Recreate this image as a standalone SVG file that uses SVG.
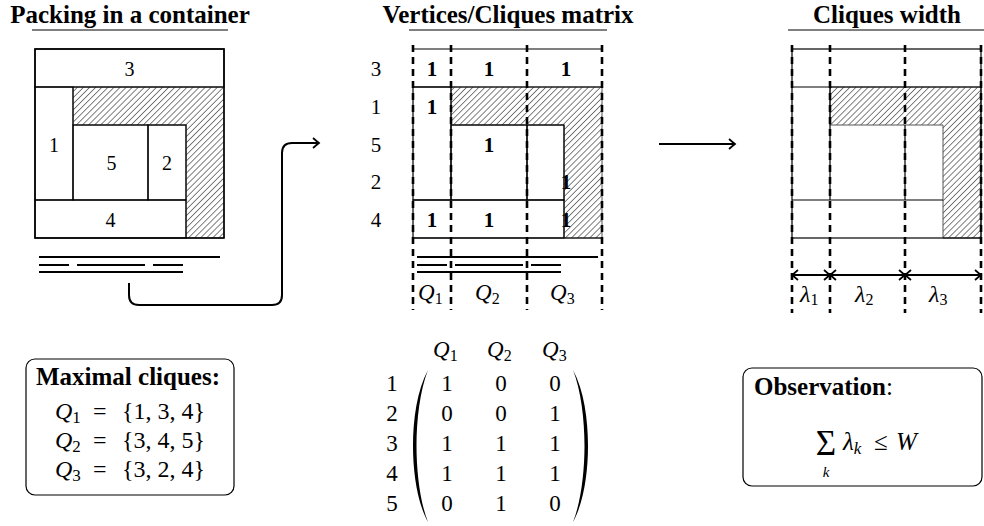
<svg xmlns="http://www.w3.org/2000/svg" width="984" height="526" viewBox="0 0 984 526">
<style>
text{font-family:"Liberation Serif","Times New Roman",serif;fill:#000}
.title{font-size:25px;font-weight:bold;text-anchor:middle}
.lbl{font-size:20px;text-anchor:middle}
.row{font-size:21px;text-anchor:middle}
.b1{font-size:21px;font-weight:bold;text-anchor:middle}
.it{font-style:italic}
.blk{fill:none;stroke:#000;stroke-width:1.2}
.outer{fill:none;stroke:#000;stroke-width:1.6}
.hatch{fill:url(#hatch);stroke:#555;stroke-width:1}
.dash{stroke:#000;stroke-width:2.6;stroke-dasharray:7 5;fill:none}
.bar{stroke:#000;stroke-width:2;fill:none}
.ul{stroke:#000;stroke-width:1;fill:none}
.con{stroke:#000;stroke-width:2;fill:none}
.box{fill:#fff;stroke:#000;stroke-width:1.2}
.mx{font-size:23px;text-anchor:middle}
</style>
<defs>
<pattern id="hatch" patternUnits="userSpaceOnUse" width="4.3" height="10" patternTransform="rotate(45)">
<line x1="0" y1="0" x2="0" y2="10" stroke="#000" stroke-width="1"/>
</pattern>
<marker id="to" viewBox="-8 -6 10 12" refX="0" refY="0" markerWidth="10" markerHeight="12" markerUnits="userSpaceOnUse" orient="auto-start-reverse">
<path d="M-6,-5 Q-1.5,-1.2 0,0 Q-1.5,1.2 -6,5" fill="none" stroke="#000" stroke-width="1.7"/>
</marker>
</defs>

<g id="left-panel">
<text class="title" x="130" y="22.5">Packing in a container</text>
<line class="ul" x1="32" y1="30" x2="228" y2="30"/>
<path class="hatch" d="M73,87H224V238H186V125H73Z"/>
<rect class="blk" x="35" y="49" width="189" height="38"/>
<rect class="blk" x="35" y="87" width="38" height="113"/>
<rect class="blk" x="73" y="125" width="75" height="75"/>
<rect class="blk" x="148" y="125" width="38" height="75"/>
<rect class="blk" x="35" y="200" width="151" height="38"/>
<rect class="outer" x="35" y="49" width="189" height="189"/>
<text class="lbl" x="129.5" y="76">3</text>
<text class="lbl" x="54" y="152">1</text>
<text class="lbl" x="111.5" y="170">5</text>
<text class="lbl" x="167" y="170">2</text>
<text class="lbl" x="110.5" y="227">4</text>
<path class="bar" d="M39,257H220M39,265H69M77,265H145M153,265H183M39,272H183"/>
</g>

<g id="middle-panel">
<text class="title" x="508" y="22.5">Vertices/Cliques matrix</text>
<line class="ul" x1="409" y1="30" x2="607" y2="30"/>
<text class="row" x="376" y="76">3</text>
<text class="row" x="376" y="114">1</text>
<text class="row" x="376" y="152">5</text>
<text class="row" x="376" y="189">2</text>
<text class="row" x="376" y="227">4</text>
<text class="b1" x="432" y="76">1</text>
<text class="b1" x="489" y="76">1</text>
<text class="b1" x="566" y="76">1</text>
<text class="b1" x="432" y="114">1</text>
<text class="b1" x="489" y="152">1</text>
<text class="b1" x="566" y="189">1</text>
<text class="b1" x="432" y="227">1</text>
<text class="b1" x="489" y="227">1</text>
<text class="b1" x="566" y="227">1</text>
<path class="hatch" d="M451,87H602V238H564V125H451Z"/>
<path class="blk" d="M413,49H602M413,87H602M413,238H602"/>
<rect class="blk" x="413" y="87" width="38" height="113"/>
<rect class="blk" x="451" y="125" width="76" height="75"/>
<rect class="blk" x="527" y="125" width="37" height="75"/>
<rect class="blk" x="413" y="200" width="151" height="38"/>
<path class="bar" d="M417,257H598M417,265H447M455,265H523M531,265H561M417,272H561"/>
<path class="dash" d="M413,45V310M451,45V310M527,45V310M602,45V310"/>
<text x="418" y="300" font-size="23"><tspan class="it">Q</tspan><tspan font-size="16" dy="4">1</tspan></text>
<text x="475" y="300" font-size="23"><tspan class="it">Q</tspan><tspan font-size="16" dy="4">2</tspan></text>
<text x="550" y="300" font-size="23"><tspan class="it">Q</tspan><tspan font-size="16" dy="4">3</tspan></text>
</g>

<g id="right-panel">
<text class="title" x="887" y="22.5">Cliques width</text>
<line class="ul" x1="788" y1="30" x2="984" y2="30"/>
<path class="hatch" d="M830,87H981V238H943V125H830Z"/>
<rect class="blk" x="792" y="49" width="189" height="189"/>
<path class="blk" d="M792,87H981M830,87V200M905,125V200M792,200H943"/>
<path class="dash" d="M792,45V313M830,45V313M905,45V313M981,45V313"/>
<path class="con" d="M792,275H830" marker-start="url(#to)" marker-end="url(#to)"/>
<path class="con" d="M830,275H905" marker-start="url(#to)" marker-end="url(#to)"/>
<path class="con" d="M905,275H981" marker-start="url(#to)" marker-end="url(#to)"/>
<text x="800" y="302" font-size="24"><tspan class="it">λ</tspan><tspan font-size="16" dy="3">1</tspan></text>
<text x="855" y="302" font-size="24"><tspan class="it">λ</tspan><tspan font-size="16" dy="3">2</tspan></text>
<text x="929" y="302" font-size="24"><tspan class="it">λ</tspan><tspan font-size="16" dy="3">3</tspan></text>
</g>

<g id="connectors">
<path class="con" d="M129,283V295Q129,305 139,305H272Q282,305 282,295V153Q282,143 292,143H319" marker-end="url(#to)"/>
<path class="con" d="M659,144H735" marker-end="url(#to)"/>
</g>

<g id="maximal-cliques">
<rect class="box" x="26" y="359" width="208" height="136" rx="9"/>
<text class="title" x="128" y="385">Maximal cliques:</text>
<text font-size="24" y="419"><tspan class="it" x="55">Q</tspan><tspan font-size="17" dy="4">1</tspan><tspan x="93" dy="-4">=</tspan><tspan x="122">{1, 3, 4}</tspan></text>
<text font-size="24" y="448"><tspan class="it" x="55">Q</tspan><tspan font-size="17" dy="4">2</tspan><tspan x="93" dy="-4">=</tspan><tspan x="122">{3, 4, 5}</tspan></text>
<text font-size="24" y="477"><tspan class="it" x="55">Q</tspan><tspan font-size="17" dy="4">3</tspan><tspan x="93" dy="-4">=</tspan><tspan x="122">{3, 2, 4}</tspan></text>
</g>

<g id="matrix">
<text x="433" y="357" font-size="23"><tspan class="it">Q</tspan><tspan font-size="16" dy="4">1</tspan></text>
<text x="487" y="357" font-size="23"><tspan class="it">Q</tspan><tspan font-size="16" dy="4">2</tspan></text>
<text x="542" y="357" font-size="23"><tspan class="it">Q</tspan><tspan font-size="16" dy="4">3</tspan></text>
<text class="mx" x="392" y="391">1</text>
<text class="mx" x="392" y="421">2</text>
<text class="mx" x="392" y="451">3</text>
<text class="mx" x="392" y="481">4</text>
<text class="mx" x="392" y="511">5</text>
<text class="mx" x="447" y="391">1</text><text class="mx" x="501" y="391">0</text><text class="mx" x="555" y="391">0</text>
<text class="mx" x="447" y="421">0</text><text class="mx" x="501" y="421">0</text><text class="mx" x="555" y="421">1</text>
<text class="mx" x="447" y="451">1</text><text class="mx" x="501" y="451">1</text><text class="mx" x="555" y="451">1</text>
<text class="mx" x="447" y="481">1</text><text class="mx" x="501" y="481">1</text><text class="mx" x="555" y="481">1</text>
<text class="mx" x="447" y="511">0</text><text class="mx" x="501" y="511">1</text><text class="mx" x="555" y="511">0</text>
<path d="M428,370C417,390 413,420 413,446C413,472 417,502 428,522C420,502 416.5,472 416.5,446C416.5,420 420,390 428,370Z" fill="#000"/>
<path d="M573,370C584,390 588,420 588,446C588,472 584,502 573,522C581,502 584.5,472 584.5,446C584.5,420 581,390 573,370Z" fill="#000"/>
</g>

<g id="observation">
<rect class="box" x="743" y="368" width="239" height="118" rx="9"/>
<text x="754" y="395" font-size="25"><tspan font-weight="bold">Observation</tspan>:</text>
<text x="826" y="455" font-size="35" text-anchor="middle">Σ</text>
<text x="826" y="477" font-size="15" class="it" text-anchor="middle">k</text>
<text x="843" y="450" font-size="25"><tspan class="it">λ</tspan><tspan class="it" font-size="17" dy="4">k</tspan><tspan x="874" dy="-4">≤</tspan><tspan class="it" x="896">W</tspan></text>
</g>
</svg>
